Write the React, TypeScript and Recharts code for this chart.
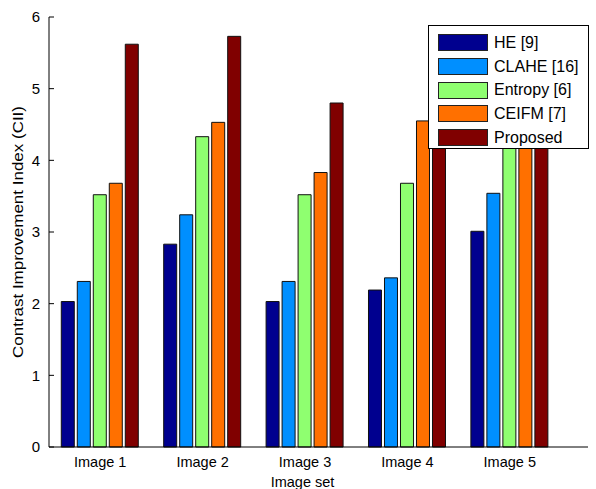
import { BarChart, Bar, XAxis, YAxis, Legend, Label } from "recharts";

const categories = ["Image 1", "Image 2", "Image 3", "Image 4", "Image 5"];
const seriesNames = ["HE [9]", "CLAHE [16]", "Entropy [6]", "CEIFM [7]", "Proposed"];
const he = [2.03, 2.83, 2.03, 2.19, 3.01];
const clahe = [2.31, 3.24, 2.31, 2.36, 3.54];
const entropy = [3.52, 4.33, 3.52, 3.68, 4.45];
const ceifm = [3.68, 4.53, 3.83, 4.55, 4.85];
const proposed = [5.62, 5.73, 4.8, 5.1, 5.3];
const yTicks = [0, 1, 2, 3, 4, 5, 6];

const data = categories.map((name, i) => ({
  name,
  he: he[i],
  clahe: clahe[i],
  entropy: entropy[i],
  ceifm: ceifm[i],
  proposed: proposed[i],
}));

const font = '"Liberation Sans", Arial, Helvetica, sans-serif';

// left tick: label outside, short tick mark pointing into the plot (matlab style)
const LeftTick = (props: any) => {
  const { x, y, payload } = props;
  const axisX = x + 9;
  return (
    <g>
      <line x1={axisX} x2={axisX + 5} y1={y} y2={y} stroke="#000" />
      <text
        x={x}
        y={y}
        dy="0.36em"
        textAnchor="end"
        fontSize={15}
        fontFamily={font}
        fill="#000"
      >
        {payload.value}
      </text>
    </g>
  );
};

const LegendBox = (props: any) => {
  const items = [...(props.payload || [])].sort(
    (a: any, b: any) => seriesNames.indexOf(a.value) - seriesNames.indexOf(b.value)
  );
  return (
    <div
      style={{
        background: "#fff",
        border: "1px solid #000",
        boxSizing: "border-box",
        width: 161,
        height: 124,
        padding: "5px 0 0 9px",
        fontFamily: font,
        fontSize: 16,
        color: "#000",
      }}
    >
      {items.map((it: any) => (
        <div
          key={it.value}
          style={{ display: "flex", alignItems: "center", height: 23.7 }}
        >
          <span
            style={{
              display: "inline-block",
              width: 50,
              height: 17,
              background: it.color,
              border: "1px solid #222",
              boxSizing: "border-box",
              marginRight: 6,
            }}
          />
          <span>{it.value}</span>
        </div>
      ))}
    </div>
  );
};

const YLabel = (props: any) => {
  const { viewBox } = props;
  const cy = viewBox.y + viewBox.height / 2;
  const cx = 17;
  return (
    <text
      x={cx}
      y={cy}
      transform={`rotate(-90, ${cx}, ${cy})`}
      textAnchor="middle"
      dy="0.36em"
      fontSize={15.5}
      fontFamily={font}
      fill="#000"
      textLength={252}
      lengthAdjust="spacingAndGlyphs"
    >
      Contrast Improvement Index (CII)
    </text>
  );
};

export default function App() {
  return (
    <div style={{ position: "absolute", left: 0, top: 0, background: "#fff" }}>
      <BarChart
        width={596}
        height={489}
        data={data}
        margin={{ top: 17, right: 8, left: 0, bottom: 0 }}
        barCategoryGap="12%"
        barGap={3}
      >
        <XAxis
          dataKey="name"
          height={42}
          padding={{ left: 0, right: 27 }}
          tickLine={false}
          tickSize={0}
          tickMargin={10}
          axisLine={{ stroke: "#000" }}
          tick={{ fill: "#000", fontSize: 14.5, fontFamily: font }}
        >
          <Label
            value="Image set"
            position="insideBottom"
            offset={2}
            dx={-16}
            style={{ fill: "#000", fontSize: 14.5, fontFamily: font }}
          />
        </XAxis>
        <XAxis
          xAxisId="top"
          dataKey="name"
          orientation="top"
          mirror
          height={0}
          padding={{ left: 0, right: 27 }}
          tick={false}
          tickSize={4}
          axisLine={{ stroke: "#000" }}
          tickLine={{ stroke: "#000" }}
        />
        <YAxis
          domain={[0, 6]}
          ticks={yTicks}
          width={49}
          tickSize={0}
          tickMargin={9}
          tickLine={false}
          axisLine={{ stroke: "#000" }}
          tick={LeftTick}
          interval={0}
        >
          <Label content={YLabel} />
        </YAxis>
        <YAxis
          yAxisId="right"
          orientation="right"
          mirror
          width={0}
          domain={[0, 6]}
          ticks={yTicks}
          tick={false}
          tickSize={5}
          axisLine={{ stroke: "#000" }}
          tickLine={{ stroke: "#000" }}
        />
        <Bar dataKey="he" name={seriesNames[0]} fill="#00008F" stroke="#111" isAnimationActive={false} />
        <Bar dataKey="clahe" name={seriesNames[1]} fill="#008FFF" stroke="#111" isAnimationActive={false} />
        <Bar dataKey="entropy" name={seriesNames[2]} fill="#8FFF70" stroke="#111" isAnimationActive={false} />
        <Bar dataKey="ceifm" name={seriesNames[3]} fill="#FF7000" stroke="#111" isAnimationActive={false} />
        <Bar dataKey="proposed" name={seriesNames[4]} fill="#800000" stroke="#111" isAnimationActive={false} />
        <Legend
          content={LegendBox}
          layout="horizontal"
          verticalAlign="middle"
          align="center"
          wrapperStyle={{ position: "absolute", left: 428, top: 25, width: 161, height: 124 }}
        />
      </BarChart>
    </div>
  );
}
